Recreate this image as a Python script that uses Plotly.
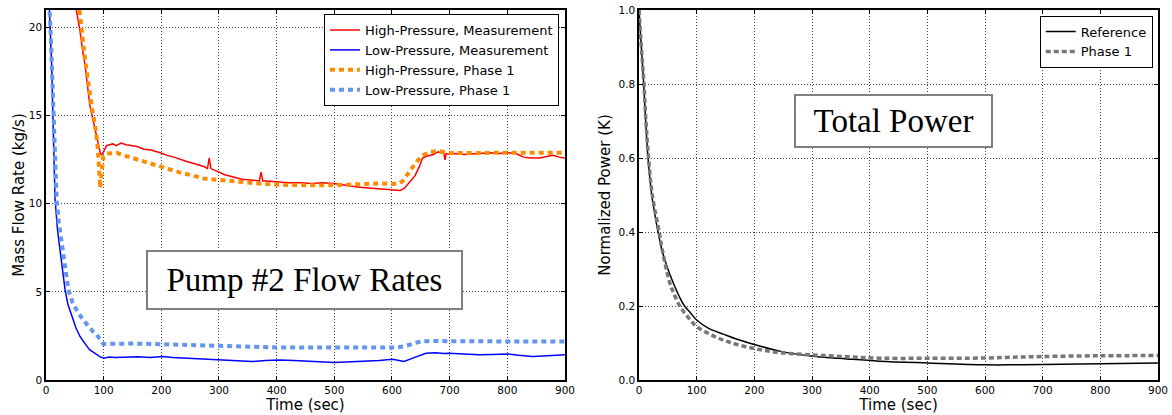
import plotly.graph_objects as go

# ---------------- Left panel: Pump #2 flow rates ----------------
hp_meas_t = [50, 55, 59, 64, 68, 72, 76, 80, 85, 88, 91, 94, 96, 99, 102, 105, 110, 116, 122, 130,
             139, 148, 158, 170, 182, 198, 210, 222, 234, 244, 255, 265, 275, 280, 283, 286, 292, 300,
             310, 326, 340, 355, 370, 373, 376, 383, 400, 420, 441, 460, 480, 499, 520, 540, 560, 580,
             600, 614, 622, 631, 640, 648, 653, 660, 666, 672, 680, 690, 692, 694, 700, 710, 725, 740,
             752, 770, 785, 800, 815, 828, 840, 856, 868, 879, 890, 900]
hp_meas_y = [21.5, 20.6, 19.8, 18.6, 17.8, 16.7, 15.6, 15.0, 14.3, 13.9, 13.3, 12.9, 12.8, 12.9, 13.1,
             13.3, 13.35, 13.4, 13.3, 13.45, 13.35, 13.3, 13.25, 13.1, 13.05, 12.9, 12.75, 12.65, 12.5,
             12.4, 12.3, 12.2, 12.1, 12.0, 12.6, 12.0, 11.9, 11.8, 11.65, 11.5, 11.4, 11.35, 11.3, 11.8,
             11.3, 11.3, 11.25, 11.2, 11.2, 11.15, 11.2, 11.15, 11.05, 10.95, 10.9, 10.85, 10.8, 10.75,
             10.9, 11.25, 11.6, 12.15, 12.6, 12.7, 12.75, 12.8, 12.95, 12.85, 12.5, 12.85, 12.8, 12.85,
             12.8, 12.85, 12.85, 12.9, 12.85, 12.9, 12.85, 12.65, 12.6, 12.6, 12.7, 12.75, 12.65, 12.6]

lp_meas_t = [0, 3, 5.8, 9.8, 12.7, 15.6, 20, 24, 28, 33, 38, 44.5, 52, 59, 66, 70, 76, 85, 93.6, 100,
             110, 120, 135, 144, 160, 180, 202, 220, 240, 260, 280, 300, 320, 340, 358, 380, 405, 430,
             450, 475, 500, 520, 540, 560, 578, 601, 612, 621, 636, 648, 659, 675, 690, 699, 720, 751,
             775, 800, 820, 844, 870, 900]
lp_meas_y = [24.0, 22.5, 21.1, 17.9, 14.1, 10.3, 8.5, 7.4, 6.2, 5.13, 4.3, 3.61, 2.95, 2.47, 2.1, 1.95,
             1.71, 1.5, 1.33, 1.24, 1.3, 1.27, 1.3, 1.29, 1.32, 1.28, 1.33, 1.28, 1.25, 1.2, 1.18, 1.14,
             1.12, 1.1, 1.05, 1.1, 1.14, 1.1, 1.07, 1.03, 0.99, 1.02, 1.05, 1.08, 1.1, 1.18, 1.1, 1.05,
             1.24, 1.4, 1.52, 1.55, 1.5, 1.52, 1.48, 1.43, 1.45, 1.48, 1.4, 1.33, 1.38, 1.43]

hp_p1_t = [58, 62, 67.6, 72, 76, 80, 85, 89, 91, 92.5, 94, 96, 99.4, 105, 115, 122.6, 140, 155, 169,
           190, 209, 230, 255, 273, 296, 320, 348, 380, 417, 457, 480, 509, 550, 580, 600, 612, 618,
           625, 633, 642, 652, 666, 680, 700, 750, 800, 850, 900]
hp_p1_y = [21.0, 19.6, 18.25, 17.2, 16.2, 15.4, 14.45, 13.5, 12.5, 11.0, 10.9, 11.6, 12.7, 12.85, 12.9,
           12.89, 12.7, 12.55, 12.36, 12.15, 11.98, 11.8, 11.6, 11.44, 11.37, 11.3, 11.21, 11.12, 11.07,
           11.03, 11.05, 11.07, 11.12, 11.16, 11.12, 11.15, 11.27, 11.6, 11.98, 12.36, 12.74, 12.93,
           13.0, 12.88, 12.89, 12.9, 12.89, 12.9]

lp_p1_t = [0, 3, 8, 12, 15, 18.5, 22, 27, 33, 38.7, 46, 56, 65, 73.4, 80, 88, 94, 99.4, 110, 150, 202,
           250, 300, 350, 405, 500, 600, 610, 620, 636, 650, 680, 700, 800, 900]
lp_p1_y = [26.0, 23.0, 19.8, 15.5, 12.8, 10.2, 9.0, 7.8, 6.3, 5.13, 4.4, 3.8, 3.4, 3.04, 2.8, 2.57, 2.3,
           2.05, 2.05, 2.07, 2.03, 1.98, 1.94, 1.89, 1.84, 1.84, 1.84, 1.85, 1.9, 2.05, 2.19, 2.22, 2.2,
           2.19, 2.19]

# ---------------- Right panel: Total power ----------------
ref_t = [0, 4, 8.1, 11.5, 15.6, 22, 25, 33, 40, 50, 60, 70, 79, 90, 100, 120, 146, 170, 200, 244, 302,
         360, 417, 501, 601, 650, 700, 800, 900]
ref_y = [1.0, 0.9, 0.8, 0.7, 0.6, 0.5, 0.47, 0.4, 0.35, 0.3, 0.26, 0.225, 0.2, 0.18, 0.162, 0.14, 0.124,
         0.11, 0.096, 0.078, 0.064, 0.057, 0.051, 0.046, 0.041, 0.041, 0.042, 0.044, 0.046]

p1_t = [0, 4, 8.5, 12, 16.5, 23, 35, 40, 53, 60, 70.6, 85, 99.5, 128, 157, 200, 244, 302, 360, 417, 500,
        600, 660, 700, 800, 900]
p1_y = [1.0, 0.9, 0.8, 0.7, 0.6, 0.5, 0.4, 0.354, 0.264, 0.235, 0.2, 0.17, 0.145, 0.12, 0.102, 0.085,
        0.074, 0.0676, 0.063, 0.059, 0.0586, 0.0595, 0.062, 0.0635, 0.0655, 0.066]

x_ticks = [0, 100, 200, 300, 400, 500, 600, 700, 800, 900]
left_y_ticks = [0, 5, 10, 15, 20]
right_y_ticks = [0.0, 0.2, 0.4, 0.6, 0.8, 1.0]

fig = go.Figure()
fig.add_trace(go.Scatter(x=hp_meas_t, y=hp_meas_y, mode="lines", name="High-Pressure, Measurement",
                         line=dict(color="#ff0000", width=1.5), xaxis="x", yaxis="y", legend="legend"))
fig.add_trace(go.Scatter(x=lp_meas_t, y=lp_meas_y, mode="lines", name="Low-Pressure, Measurement",
                         line=dict(color="#0000ff", width=1.5), xaxis="x", yaxis="y", legend="legend"))
fig.add_trace(go.Scatter(x=hp_p1_t, y=hp_p1_y, mode="lines", name="High-Pressure, Phase 1",
                         line=dict(color="#ff8c00", width=4, dash="5px,4px"), xaxis="x", yaxis="y",
                         legend="legend"))
fig.add_trace(go.Scatter(x=lp_p1_t, y=lp_p1_y, mode="lines", name="Low-Pressure, Phase 1",
                         line=dict(color="#6495ed", width=4, dash="5px,4px"), xaxis="x", yaxis="y",
                         legend="legend"))
fig.add_trace(go.Scatter(x=ref_t, y=ref_y, mode="lines", name="Reference", line_shape="spline",
                         line=dict(color="#000000", width=1.5), xaxis="x2", yaxis="y2", legend="legend2"))
fig.add_trace(go.Scatter(x=p1_t, y=p1_y, mode="lines", name="Phase 1", line_shape="spline",
                         line=dict(color="#777777", width=3.5, dash="5px,3px"), xaxis="x2", yaxis="y2",
                         legend="legend2"))

tickfont = dict(family="DejaVu Sans", size=10.5, color="black")
titlefont = dict(family="DejaVu Sans", size=15, color="black")
common_axis = dict(showline=True, linecolor="black", linewidth=1.5, mirror="ticks", ticks="inside",
                   ticklen=4, tickcolor="black", showgrid=True, gridcolor="#444444", griddash="1px,2px",
                   gridwidth=1, zeroline=False, tickfont=tickfont, automargin=False)

fig.update_layout(
    width=1172, height=415,
    margin=dict(l=46, r=14, t=10, b=35, autoexpand=False),
    paper_bgcolor="white", plot_bgcolor="white",
    showlegend=True,
    xaxis=dict(domain=[0, 0.4667], range=[0, 900], tickvals=x_ticks, anchor="y",
               title=dict(text="Time (sec)", font=titlefont, standoff=4), **common_axis),
    yaxis=dict(domain=[0, 1], range=[0, 21], tickvals=left_y_ticks, anchor="x",
               title=dict(text="Mass Flow Rate (kg/s)", font=titlefont, standoff=1), **common_axis),
    xaxis2=dict(domain=[0.5333, 1], range=[0, 900], tickvals=x_ticks, anchor="y2",
                title=dict(text="Time (sec)", font=titlefont, standoff=4), **common_axis),
    yaxis2=dict(domain=[0, 1], range=[0, 1], tickvals=right_y_ticks, tickformat=".1f", anchor="x2",
                title=dict(text="Normalized Power (K)", font=titlefont, standoff=4), **common_axis),
    legend=dict(x=0.4613, y=0.989, xanchor="right", yanchor="top", bgcolor="white",
                bordercolor="black", borderwidth=1, font=dict(family="DejaVu Sans", size=13, color="black"),
                tracegroupgap=0),
    legend2=dict(x=0.9953, y=0.985, xanchor="right", yanchor="top", bgcolor="white",
                 bordercolor="black", borderwidth=1, font=dict(family="DejaVu Sans", size=13, color="black"),
                 tracegroupgap=0),
    annotations=[
        dict(text="Pump #2 Flow Rates", xref="paper", yref="paper", x=0.2325, y=0.2703,
             xanchor="center", yanchor="middle", showarrow=False,
             font=dict(family="Liberation Serif", size=33, color="black"),
             bgcolor="white", bordercolor="#808080", borderwidth=2, borderpad=0, width=313, height=56),
        dict(text="Total Power", xref="paper", yref="paper", x=0.7621, y=0.70,
             xanchor="center", yanchor="middle", showarrow=False,
             font=dict(family="Liberation Serif", size=33, color="black"),
             bgcolor="white", bordercolor="#808080", borderwidth=2, borderpad=0, width=195, height=50),
    ],
)

fig.write_html("out.html", config={"displayModeBar": False},
               post_script="document.body.style.margin='0px';document.body.style.overflow='hidden';")
